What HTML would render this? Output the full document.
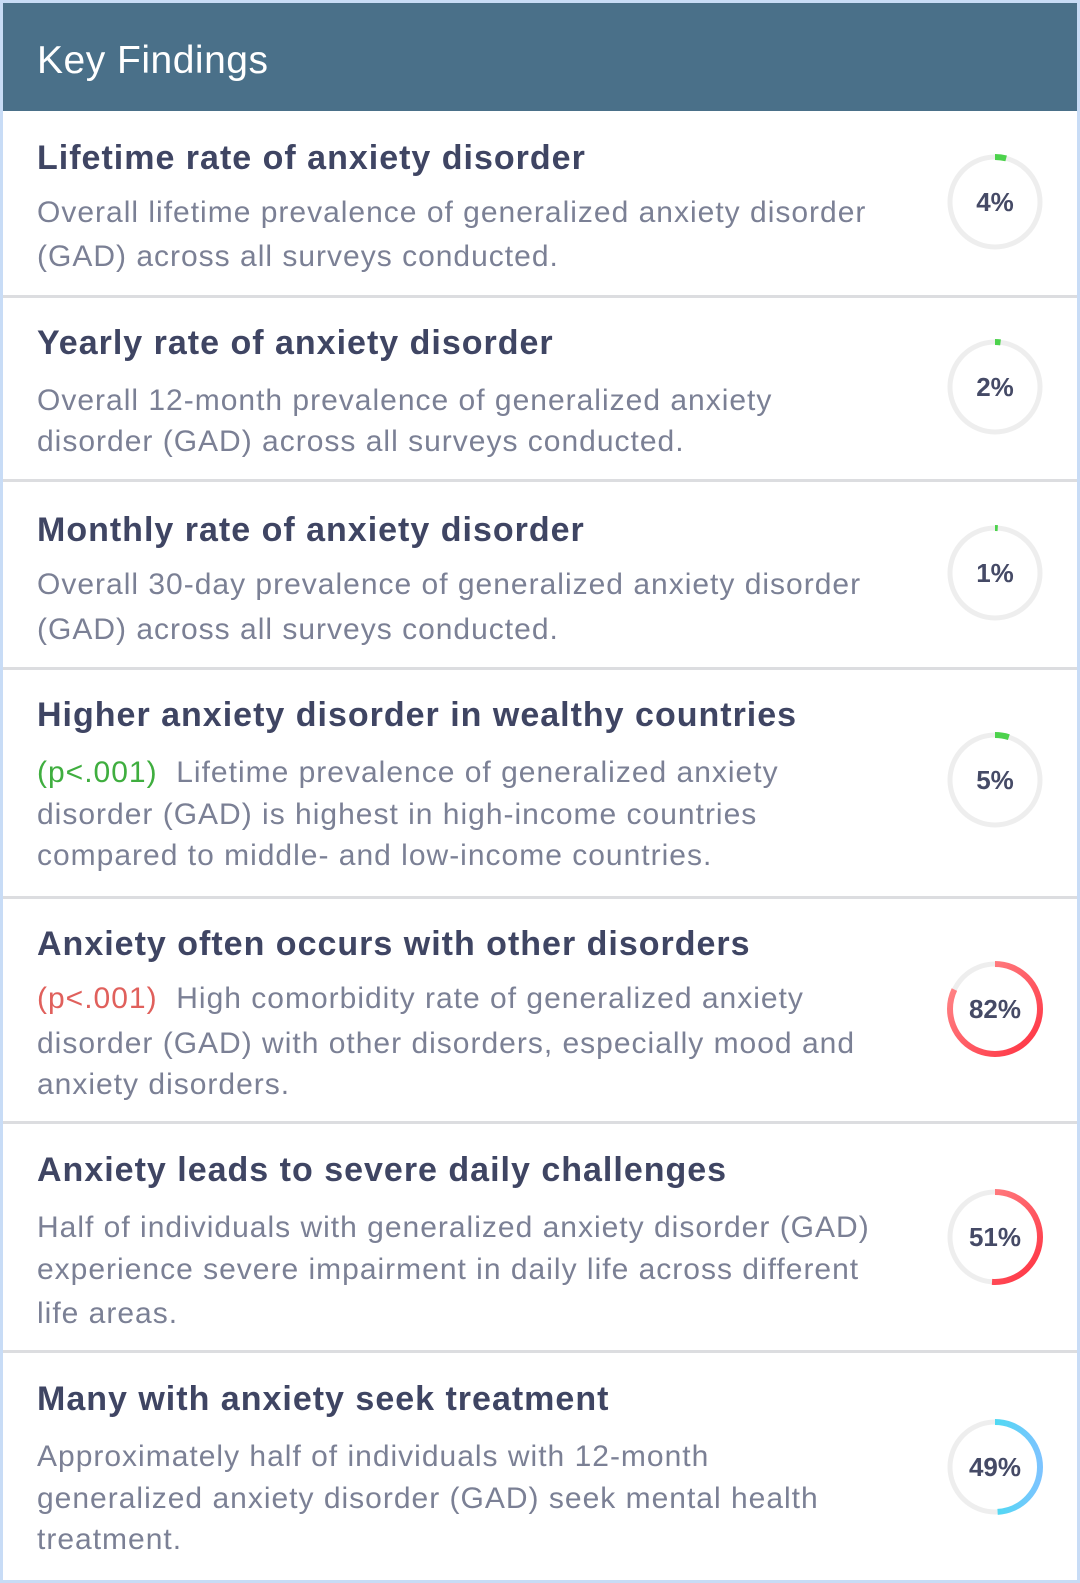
<!DOCTYPE html>
<html><head><meta charset="utf-8"><style>
body{margin:0;width:1080px;height:1583px;background:#c8dcf6;position:relative;overflow:hidden;font-family:"Liberation Sans",sans-serif}
.panel{position:absolute;left:3px;top:3px;width:1074px;height:1577px;background:#fff}
.hdr{position:absolute;left:0;top:0;width:1074px;height:108px;background:#4a7089;color:#fff;font-size:39px;}
.hdr span{position:absolute;left:34px;top:36px;letter-spacing:0.5px}
.sep{position:absolute;left:0;width:1074px;height:3px;background:#dcdde0}
.t{position:absolute;left:37px;font-size:34px;font-weight:bold;color:#3f4563;white-space:nowrap;letter-spacing:1px}
.d{position:absolute;left:37px;font-size:30px;color:#7b8095;white-space:nowrap;letter-spacing:1px}
.ring{position:absolute;width:100px;height:100px;left:945px}
.ring b{position:absolute;left:0;top:0;width:100px;line-height:100px;text-align:center;font-size:26px;color:#454a66}
</style></head><body>
<div class="panel">
<div class="hdr"><span>Key Findings</span></div>
<div class="sep" style="top:292px"></div>
<div class="sep" style="top:476px"></div>
<div class="sep" style="top:664px"></div>
<div class="sep" style="top:893px"></div>
<div class="sep" style="top:1118px"></div>
<div class="sep" style="top:1347px"></div>
</div>
<svg width="0" height="0" style="position:absolute"><defs>
<linearGradient id="gr" x1="1" y1="0" x2="0" y2="1"><stop offset="0" stop-color="#ff9090"/><stop offset="1" stop-color="#ff3040"/></linearGradient>
<linearGradient id="gb" x1="0" y1="0" x2="0" y2="1"><stop offset="0" stop-color="#22eee6"/><stop offset="1" stop-color="#7cc4ff"/></linearGradient>
</defs></svg>

<div class="t" style="top:139px">Lifetime rate of anxiety disorder</div>
<div class="d" style="top:196px">Overall lifetime prevalence of generalized anxiety disorder</div>
<div class="d" style="top:240px">(GAD) across all surveys conducted.</div>

<div class="t" style="top:324px">Yearly rate of anxiety disorder</div>
<div class="d" style="top:384px">Overall 12-month prevalence of generalized anxiety</div>
<div class="d" style="top:425px">disorder (GAD) across all surveys conducted.</div>

<div class="t" style="top:511px">Monthly rate of anxiety disorder</div>
<div class="d" style="top:568px">Overall 30-day prevalence of generalized anxiety disorder</div>
<div class="d" style="top:613px">(GAD) across all surveys conducted.</div>

<div class="t" style="top:696px">Higher anxiety disorder in wealthy countries</div>
<div class="d" style="top:756px"><span style="color:#3fae3f">(p&lt;.001)</span>&nbsp; Lifetime prevalence of generalized anxiety</div>
<div class="d" style="top:798px">disorder (GAD) is highest in high-income countries</div>
<div class="d" style="top:839px">compared to middle- and low-income countries.</div>

<div class="t" style="top:925px">Anxiety often occurs with other disorders</div>
<div class="d" style="top:982px"><span style="color:#e0605c">(p&lt;.001)</span>&nbsp; High comorbidity rate of generalized anxiety</div>
<div class="d" style="top:1027px">disorder (GAD) with other disorders, especially mood and</div>
<div class="d" style="top:1068px">anxiety disorders.</div>

<div class="t" style="top:1151px">Anxiety leads to severe daily challenges</div>
<div class="d" style="top:1211px">Half of individuals with generalized anxiety disorder (GAD)</div>
<div class="d" style="top:1253px">experience severe impairment in daily life across different</div>
<div class="d" style="top:1297px">life areas.</div>

<div class="t" style="top:1380px">Many with anxiety seek treatment</div>
<div class="d" style="top:1440px">Approximately half of individuals with 12-month</div>
<div class="d" style="top:1482px">generalized anxiety disorder (GAD) seek mental health</div>
<div class="d" style="top:1523px">treatment.</div>

<div class="ring" style="top:152px"><svg width="100" height="100"><circle cx="50" cy="50" r="45" fill="none" stroke="#eeeeee" stroke-width="5"/><circle cx="50" cy="50" r="45" fill="none" stroke="#4cd24c" stroke-width="6" stroke-dasharray="11.3 300" transform="rotate(-90 50 50)"/></svg><b>4%</b></div>
<div class="ring" style="top:337px"><svg width="100" height="100"><circle cx="50" cy="50" r="45" fill="none" stroke="#eeeeee" stroke-width="5"/><circle cx="50" cy="50" r="45" fill="none" stroke="#4cd24c" stroke-width="6" stroke-dasharray="5.6 300" transform="rotate(-90 50 50)"/></svg><b>2%</b></div>
<div class="ring" style="top:523px"><svg width="100" height="100"><circle cx="50" cy="50" r="45" fill="none" stroke="#eeeeee" stroke-width="5"/><circle cx="50" cy="50" r="45" fill="none" stroke="#4cd24c" stroke-width="6" stroke-dasharray="2.8 300" transform="rotate(-90 50 50)"/></svg><b>1%</b></div>
<div class="ring" style="top:730px"><svg width="100" height="100"><circle cx="50" cy="50" r="45" fill="none" stroke="#eeeeee" stroke-width="5"/><circle cx="50" cy="50" r="45" fill="none" stroke="#4cd24c" stroke-width="6" stroke-dasharray="14.1 300" transform="rotate(-90 50 50)"/></svg><b>5%</b></div>
<div class="ring" style="top:959px"><svg width="100" height="100"><circle cx="50" cy="50" r="45" fill="none" stroke="#eeeeee" stroke-width="5"/><circle cx="50" cy="50" r="45" fill="none" stroke="url(#gr)" stroke-width="6" stroke-dasharray="231.8 300" transform="rotate(-90 50 50)"/></svg><b>82%</b></div>
<div class="ring" style="top:1187px"><svg width="100" height="100"><circle cx="50" cy="50" r="45" fill="none" stroke="#eeeeee" stroke-width="5"/><circle cx="50" cy="50" r="45" fill="none" stroke="url(#gr)" stroke-width="6" stroke-dasharray="144.2 300" transform="rotate(-90 50 50)"/></svg><b>51%</b></div>
<div class="ring" style="top:1417px"><svg width="100" height="100"><circle cx="50" cy="50" r="45" fill="none" stroke="#eeeeee" stroke-width="5"/><circle cx="50" cy="50" r="45" fill="none" stroke="url(#gb)" stroke-width="6" stroke-dasharray="138.5 300" transform="rotate(-90 50 50)"/></svg><b>49%</b></div>
</body></html>
